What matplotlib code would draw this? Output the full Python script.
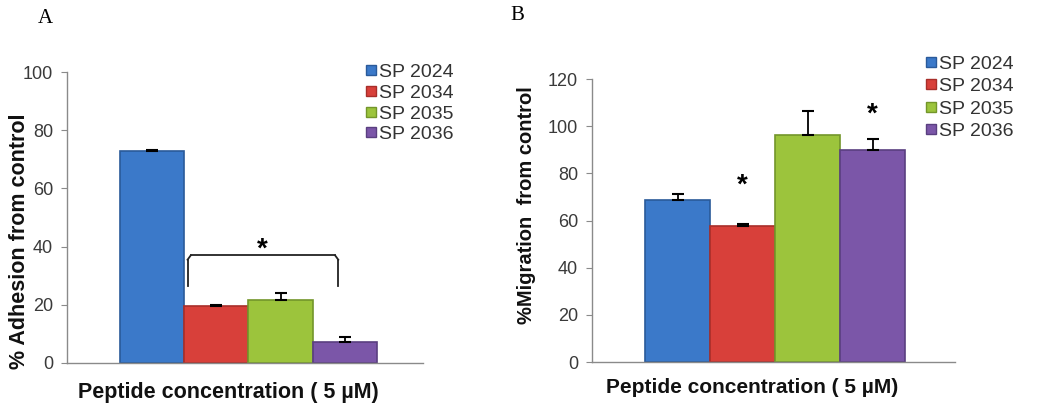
#!/usr/bin/env python3
# two-panel bar chart: adhesion (A) and migration (B) for SP peptides at 5 uM

import numpy as np
import matplotlib
matplotlib.use('Agg')
import matplotlib.pyplot as plt
from matplotlib.lines import Line2D

plt.rcParams['font.family'] = ['Liberation Sans', 'DejaVu Sans']

# data
peptides = ['SP 2024', 'SP 2034', 'SP 2035', 'SP 2036']
colors = ['#3b79c9', '#d8403a', '#9cc43c', '#7b56a8']
edges = ['#2a5a9a', '#a82e2a', '#73962a', '#5a3f80']

adhesion = [73.0, 19.7, 21.7, 7.3]
adhesion_err = [0.3, 0.2, 2.3, 1.8]

migration = [68.7, 57.6, 96.3, 90.0]
migration_err = [2.5, 0.8, 10.0, 4.6]

xlabel = 'Peptide concentration ( 5 \u00b5M)'
grey = '#8a8a8a'


def style_axes(ax, ymax, step, ylabel, ylsize, xlsize):
    ax.set_ylim(0, ymax)
    ax.set_yticks(np.arange(0, ymax + 1, step))
    ax.set_xticks([])
    for s in ['top', 'right']:
        ax.spines[s].set_visible(False)
    for s in ['left', 'bottom']:
        ax.spines[s].set_color(grey)
        ax.spines[s].set_linewidth(1.0)
    ax.tick_params(axis='y', direction='out', length=4, color=grey,
                   labelsize=13, labelcolor='#3a3a3a', pad=6)
    ax.set_ylabel(ylabel, fontsize=ylsize, fontweight='bold', color='#111111')
    ax.set_xlabel(xlabel, fontsize=xlsize, fontweight='bold', color='#111111')


def draw_bars(ax, vals, errs):
    x = np.arange(len(vals))
    ax.bar(x, vals, width=1.0, color=colors, edgecolor=edges, linewidth=1.2,
           zorder=2)
    ax.errorbar(x, vals, yerr=[np.zeros(len(errs)), errs], fmt='none',
                ecolor='black', elinewidth=1.3, capsize=4, capthick=1.5,
                zorder=3)


def add_legend(fig, x, y, spacing):
    handles = [Line2D([], [], marker='s', linestyle='none', markersize=7,
                      markerfacecolor=c, markeredgecolor=e)
               for c, e in zip(colors, edges)]
    fig.legend(handles, peptides, loc='upper left', bbox_to_anchor=(x, y),
               frameon=False, fontsize=14, handlelength=0.6, handletextpad=0.1,
               labelspacing=spacing, borderaxespad=0, borderpad=0,
               labelcolor='#333333')


fig = plt.figure(figsize=(10.5, 4.12), dpi=100)

# panel A
axA = fig.add_axes([0.0638, 0.119, 0.339, 0.706])
draw_bars(axA, adhesion, adhesion_err)
style_axes(axA, 100, 20, '% Adhesion from control', 15.5, 15.5)
axA.set_xlim(-1.33, 4.22)
axA.yaxis.set_label_coords(-0.105, 0.42)
axA.xaxis.set_label_coords(0.452, -0.065)
# significance bracket over SP 2034 - SP 2036
axA.plot([0.55, 0.55], [26.5, 35.5], color='#222222', lw=1.3)
axA.plot([2.9, 2.9], [26.5, 35.5], color='#222222', lw=1.3)
axA.plot([0.6, 2.85], [37, 37], color='#222222', lw=1.3)
axA.plot([0.55, 0.6], [35.5, 37], color='#222222', lw=1.3)
axA.plot([2.85, 2.9], [37, 35.5], color='#222222', lw=1.3)
axA.text(1.72, 34.5, '*', ha='center', va='bottom', fontsize=20,
         fontweight='bold')
fig.text(0.043, 0.955, 'A', family='Liberation Serif', fontsize=15,
         ha='center', va='center')
add_legend(fig, 0.348, 0.846, 0.16)

# panel B
axB = fig.add_axes([0.5638, 0.121, 0.3457, 0.687])
draw_bars(axB, migration, migration_err)
style_axes(axB, 120, 20, '%Migration  from control', 14.5, 15)
axB.set_xlim(-1.32, 4.27)
axB.yaxis.set_label_coords(-0.155, 0.555)
axB.xaxis.set_label_coords(0.44, -0.055)
axB.text(1, 69.5, '*', ha='center', va='bottom', fontsize=20, fontweight='bold')
axB.text(3, 99.5, '*', ha='center', va='bottom', fontsize=20, fontweight='bold')
fig.text(0.493, 0.962, 'B', family='Liberation Serif', fontsize=15,
         ha='center', va='center')
add_legend(fig, 0.881, 0.866, 0.25)

fig.savefig('out.png', dpi=100)
